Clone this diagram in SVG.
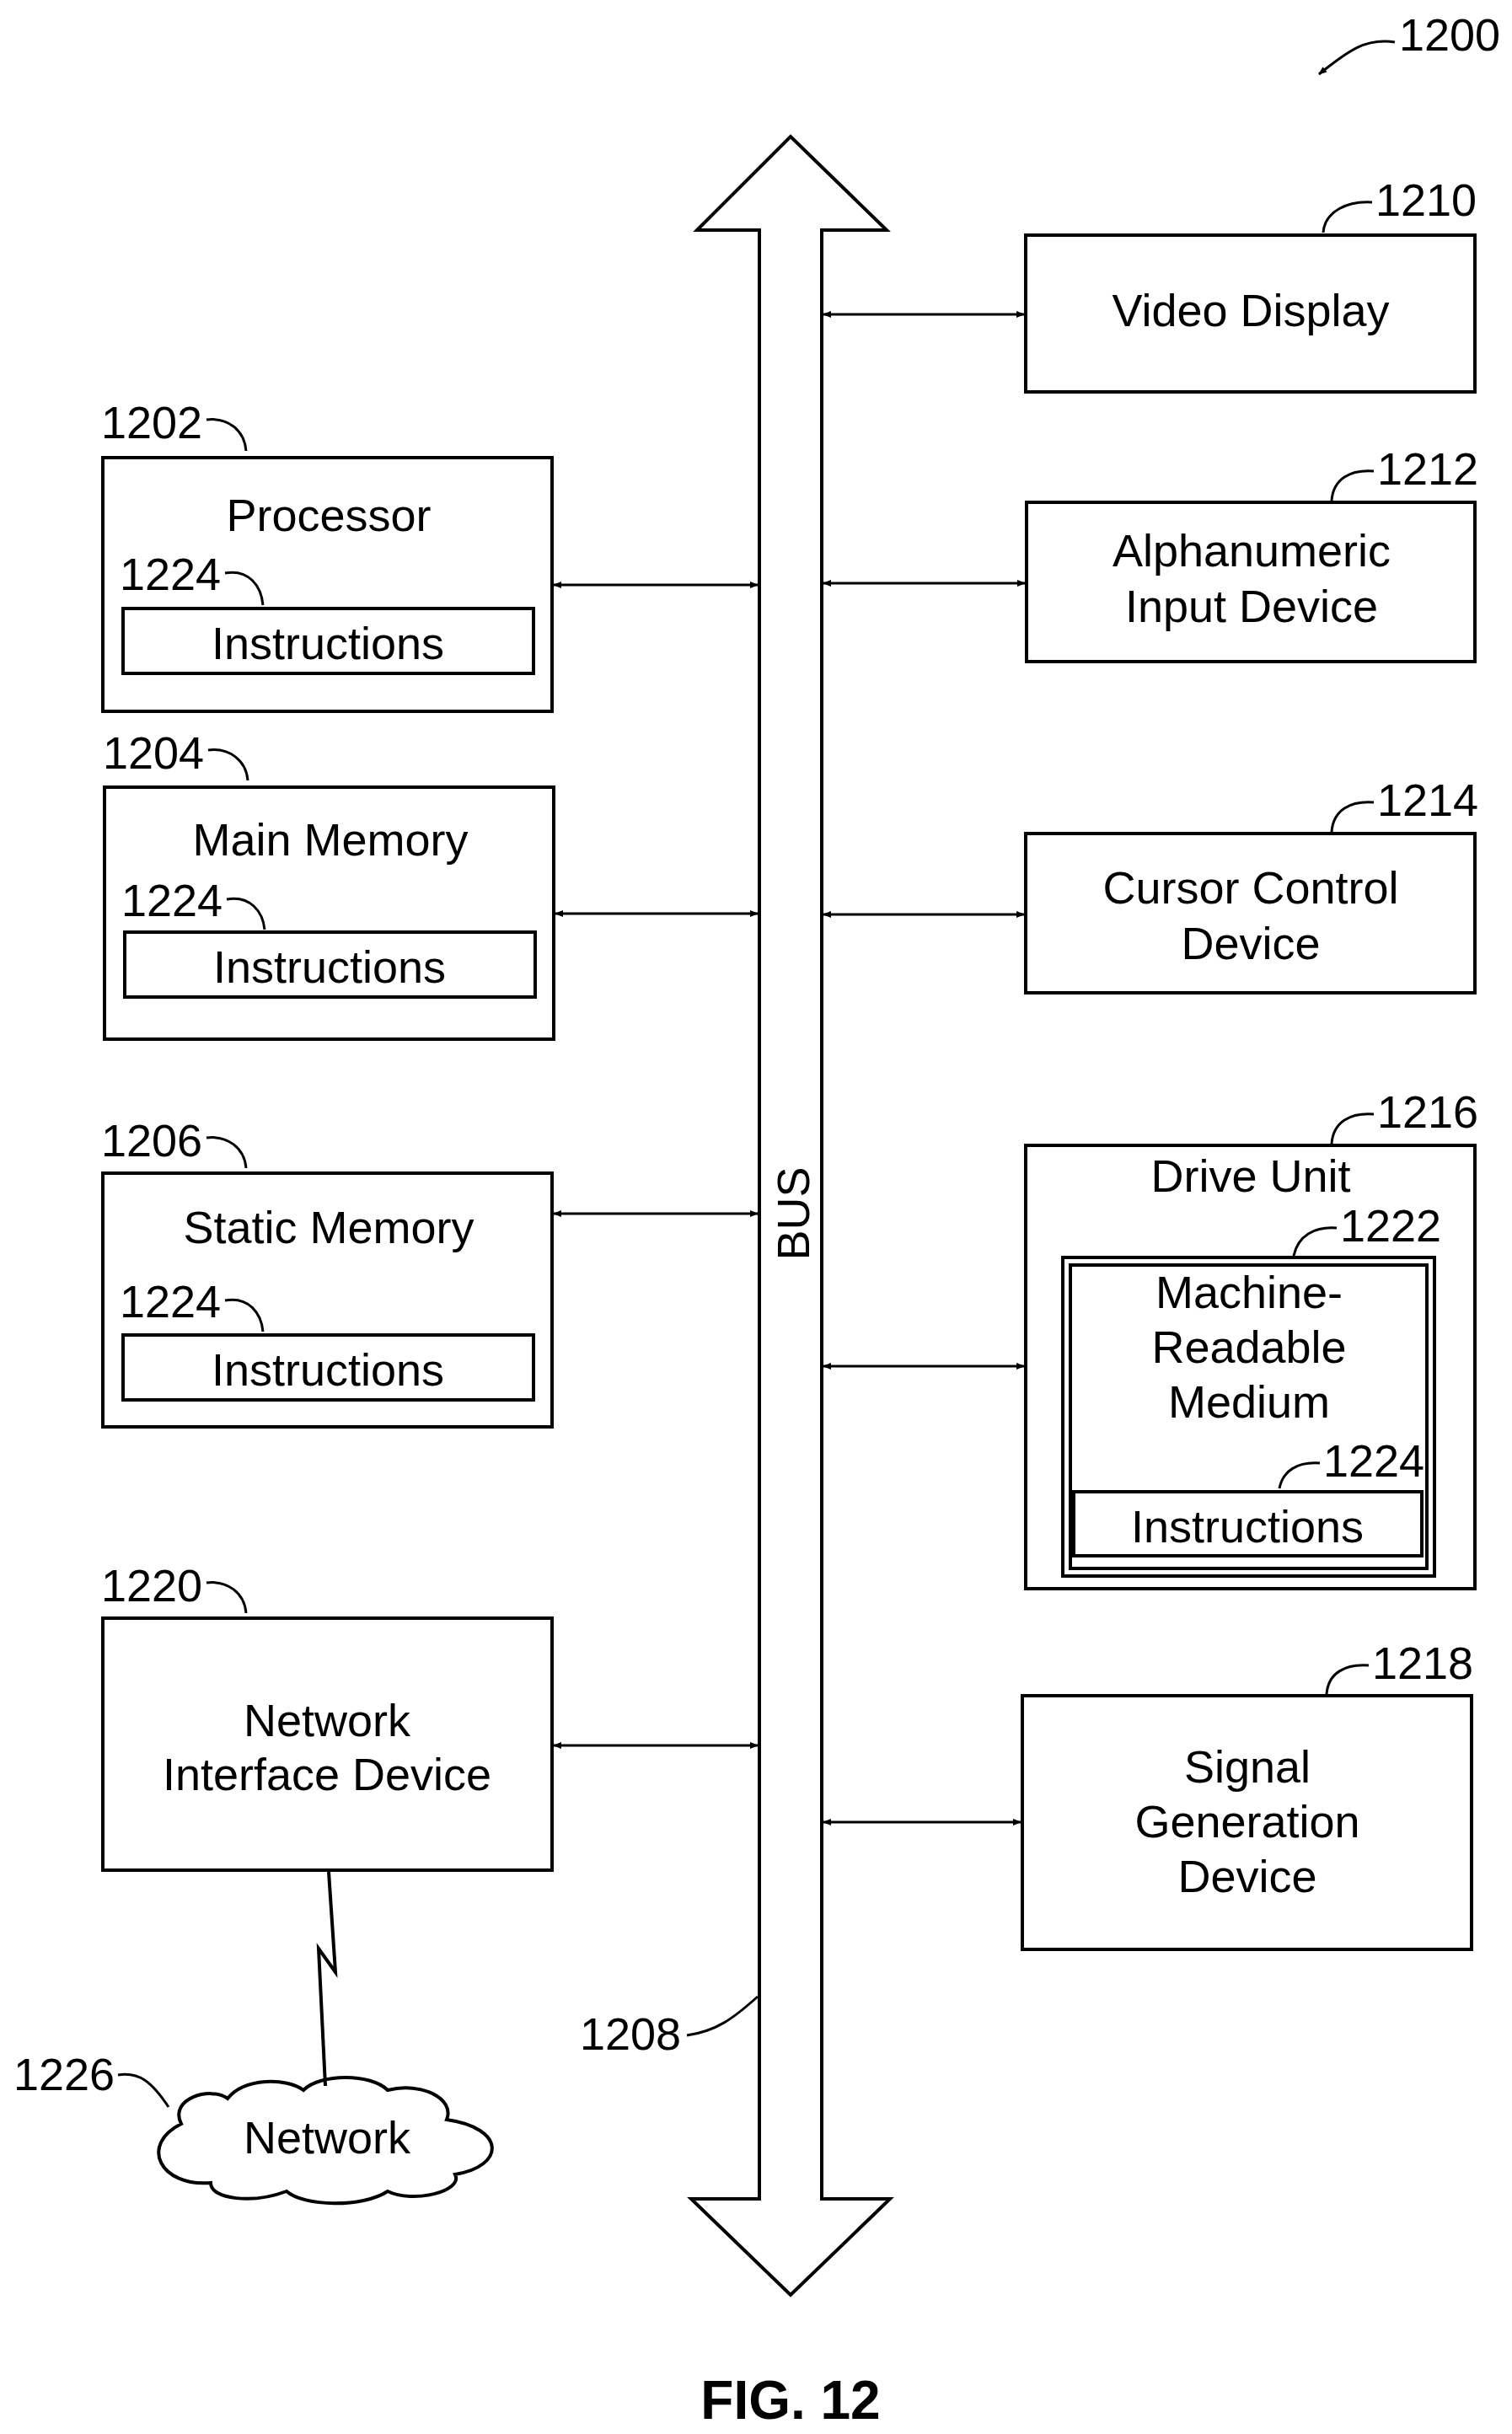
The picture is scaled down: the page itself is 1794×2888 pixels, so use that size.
<svg xmlns="http://www.w3.org/2000/svg" width="1794" height="2888" viewBox="0 0 1794 2888">
<style>
.b{fill:none;stroke:#000;stroke-width:4}
.t{font-family:"Liberation Sans",Arial,sans-serif;font-size:54px;fill:#000;text-anchor:middle}
.l{font-family:"Liberation Sans",Arial,sans-serif;font-size:54px;fill:#000}
.c{fill:none;stroke:#000;stroke-width:3}
</style>
<defs><marker id="a" markerWidth="10" markerHeight="8" refX="9" refY="4" orient="auto-start-reverse" markerUnits="userSpaceOnUse" viewBox="0 0 10 8"><path d="M0,0L10,4L0,8z"/></marker></defs>
<rect width="1794" height="2888" fill="#fff"/>
<g id="bus"><path class="b" d="M901,2609V273H827L938,162L1052,273H975V2609H1056L938,2723L820,2609Z"/>
<text class="t" transform="translate(960,1440) rotate(-90)">BUS</text></g>
<g id="n1200"><text class="l" x="1660" y="60">1200</text><path class="c" d="M1655,50C1620,45 1600,60 1565,88" marker-end="url(#a)"/></g>
<g id="n1202"><rect class="b" x="122" y="543" width="533" height="301"/><text class="t" x="390" y="630">Processor</text><text class="l" x="120" y="520">1202</text><path class="c" d="M245,498C270,495 290,510 292,535"/><text class="l" x="142" y="700">1224</text><path class="c" d="M267,680C295,675 310,695 312,718"/><rect class="b" x="146" y="722" width="487" height="77"/><text class="t" x="389" y="782">Instructions</text></g>
<g id="n1204"><rect class="b" x="124" y="934" width="533" height="299"/><text class="t" x="392" y="1015">Main Memory</text><text class="l" x="122" y="912">1204</text><path class="c" d="M247,890C272,887 292,902 294,926"/><text class="l" x="144" y="1087">1224</text><path class="c" d="M269,1067C297,1062 312,1082 314,1103"/><rect class="b" x="148" y="1106" width="487" height="77"/><text class="t" x="391" y="1166">Instructions</text></g>
<g id="n1206"><rect class="b" x="122" y="1392" width="533" height="301"/><text class="t" x="390" y="1475">Static Memory</text><text class="l" x="120" y="1372">1206</text><path class="c" d="M245,1350C270,1347 290,1362 292,1386"/><text class="l" x="142" y="1563">1224</text><path class="c" d="M267,1543C295,1538 310,1558 312,1580"/><rect class="b" x="146" y="1584" width="487" height="77"/><text class="t" x="389" y="1644">Instructions</text></g>
<g id="n1220"><rect class="b" x="122" y="1920" width="533" height="299"/><text class="t" x="388" y="2060">Network</text><text class="t" x="388" y="2124">Interface Device</text><text class="l" x="120" y="1900">1220</text><path class="c" d="M245,1878C270,1875 290,1890 292,1914"/></g>
<g id="n1226"><path class="b" d="M215,2520C200,2490 250,2475 270,2490C290,2465 340,2465 360,2480C380,2460 440,2460 460,2480C500,2470 540,2490 530,2515C600,2525 600,2570 540,2580C550,2600 490,2615 460,2600C430,2620 360,2618 340,2600C300,2615 250,2610 250,2590C190,2595 165,2545 215,2520Z"/><text class="t" x="388" y="2555">Network</text><text class="l" x="16" y="2480">1226</text><path class="c" d="M140,2462C165,2458 180,2470 200,2500"/></g>
<g id="n1210"><rect class="b" x="1217" y="279" width="533" height="186"/><text class="t" x="1484" y="387">Video Display</text><text class="l" x="1632" y="256">1210</text><path class="c" d="M1628,240C1600,238 1572,250 1570,276"/></g>
<g id="n1212"><rect class="b" x="1218" y="596" width="532" height="189"/><text class="t" x="1485" y="672">Alphanumeric</text><text class="t" x="1485" y="738">Input Device</text><text class="l" x="1634" y="575">1212</text><path class="c" d="M1630,559C1602,557 1582,568 1580,594"/></g>
<g id="n1214"><rect class="b" x="1217" y="989" width="533" height="189"/><text class="t" x="1484" y="1072">Cursor Control</text><text class="t" x="1484" y="1138">Device</text><text class="l" x="1634" y="968">1214</text><path class="c" d="M1630,952C1602,950 1582,961 1580,987"/></g>
<g id="n1216"><rect class="b" x="1217" y="1359" width="533" height="526"/><text class="t" x="1484" y="1414">Drive Unit</text><text class="l" x="1634" y="1338">1216</text><path class="c" d="M1630,1322C1602,1320 1582,1331 1580,1357"/>
<g id="n1222"><rect class="b" x="1261" y="1492" width="441" height="378"/><rect class="b" x="1270" y="1501" width="423" height="360"/><text class="t" x="1482" y="1552">Machine-</text><text class="t" x="1482" y="1617">Readable</text><text class="t" x="1482" y="1682">Medium</text><text class="l" x="1590" y="1473">1222</text><path class="c" d="M1586,1457C1560,1455 1540,1466 1535,1490"/><text class="l" x="1570" y="1752">1224</text><path class="c" d="M1566,1736C1540,1734 1522,1745 1518,1766"/><rect class="b" x="1274" y="1770" width="413" height="76"/><text class="t" x="1480" y="1830">Instructions</text></g></g>
<g id="n1218"><rect class="b" x="1213" y="2012" width="533" height="301"/><text class="t" x="1480" y="2115">Signal</text><text class="t" x="1480" y="2180">Generation</text><text class="t" x="1480" y="2245">Device</text><text class="l" x="1628" y="1992">1218</text><path class="c" d="M1624,1976C1596,1974 1576,1985 1574,2010"/></g>
<g id="n1208"><text class="l" x="688" y="2432">1208</text><path class="c" d="M815,2415C850,2410 870,2395 899,2369"/></g>
<g id="connectors" class="c" fill="none">
<path d="M657,694H899" marker-start="url(#a)" marker-end="url(#a)"/>
<path d="M659,1084H899" marker-start="url(#a)" marker-end="url(#a)"/>
<path d="M657,1440H899" marker-start="url(#a)" marker-end="url(#a)"/>
<path d="M657,2071H899" marker-start="url(#a)" marker-end="url(#a)"/>
<path d="M977,373H1215" marker-start="url(#a)" marker-end="url(#a)"/>
<path d="M977,692H1216" marker-start="url(#a)" marker-end="url(#a)"/>
<path d="M977,1085H1215" marker-start="url(#a)" marker-end="url(#a)"/>
<path d="M977,1621H1215" marker-start="url(#a)" marker-end="url(#a)"/>
<path d="M977,2162H1211" marker-start="url(#a)" marker-end="url(#a)"/>
<path d="M390,2221L398,2340L378,2312L386,2475" stroke-width="4"/>
</g>
<text x="938" y="2870" style="font-family:'Liberation Sans',Arial,sans-serif;font-size:64px;font-weight:bold" text-anchor="middle">FIG. 12</text>
</svg>
